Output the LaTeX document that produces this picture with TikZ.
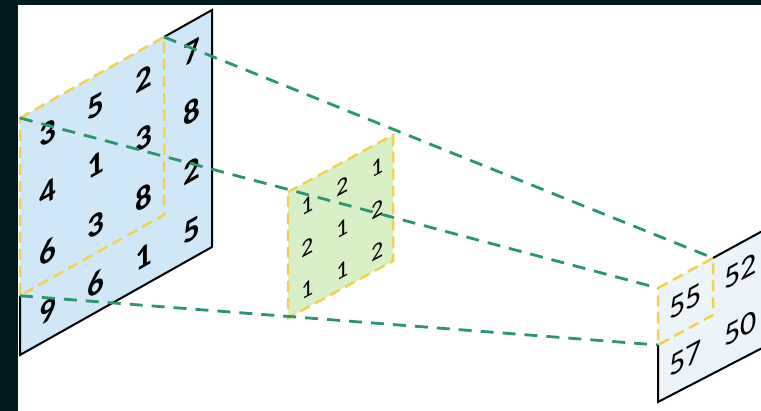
\documentclass[tikz,border=0pt]{standalone}
\usepackage{fontspec}
\setmainfont{Carlito}
\definecolor{darkbg}{HTML}{021B1E}
\definecolor{infill}{HTML}{CFE7F6}
\definecolor{kfill}{HTML}{D9F0C6}
\definecolor{ofill}{HTML}{ECF3F9}
\definecolor{ydash}{HTML}{F0D250}
\definecolor{gdash}{HTML}{2A966A}
\begin{document}
\begin{tikzpicture}[x=1pt,y=-1pt,
  yellowdash/.style={draw=ydash,line width=2.5pt,dash pattern=on 11pt off 6pt},
  greendash/.style={draw=gdash,line width=2.8pt,dash pattern=on 13pt off 9pt},
  outline/.style={draw=black,line width=2pt},
  innum/.style={inner sep=0pt,font=\bfseries\fontsize{33}{33}\selectfont,yslant=0.5625},
  knum/.style={inner sep=0pt,font=\fontsize{24}{24}\selectfont,yslant=0.543},
  onum/.style={inner sep=0pt,font=\fontsize{32}{32}\selectfont,yslant=0.545}]
\useasboundingbox (0,0) rectangle (761,411);
\fill[darkbg] (0,0) rectangle (761,411);
\fill[white] (18,5) rectangle (761,411);
\begin{scope}
\clip (18,5) rectangle (761,411);
% input
\coordinate (iTL) at (20,118);
\coordinate (iTR) at (212,10);
\coordinate (iBR) at (212,247);
\coordinate (iBL) at (20,355);
\coordinate (iyTR) at (164,37);
\coordinate (iyBR) at (164,214.75);
\coordinate (iyBL) at (20,295.75);
\fill[infill] (iTL)--(iTR)--(iBR)--(iBL)--cycle;
\draw[outline,line join=miter] (iyTR)--(iTR)--(iBR)--(iBL)--(iyBL);
\draw[yellowdash] (iTL)--(iyTR)--(iyBR)--(iyBL)--cycle;
\foreach \r/\c/\t in {1/1/3,1/2/5,1/3/2,1/4/7,
                      2/1/4,2/2/1,2/3/3,2/4/8,
                      3/1/6,3/2/3,3/3/8,3/4/2,
                      4/1/9,4/2/6,4/3/1,4/4/5}
  \node[innum] (in-\r-\c) at ({20+48*(\c-0.5)+4},{118-27*(\c-0.5)+59.25*(\r-0.5)-1}) {\t};
% kernel
\coordinate (kTL) at (288,192);
\coordinate (kTR) at (393,135);
\coordinate (kBR) at (393,261);
\coordinate (kBL) at (288,318);
\fill[kfill] (kTL)--(kTR)--(kBR)--(kBL)--cycle;
\draw[yellowdash] (kTL)--(kTR)--(kBR)--(kBL)--cycle;
\foreach \r/\c/\t in {1/1/1,1/2/2,1/3/1,
                      2/1/2,2/2/1,2/3/2,
                      3/1/1,3/2/1,3/3/2}
  \node[knum] (k-\r-\c) at ({288+35*(\c-0.5)+2},{192-19*(\c-0.5)+42*(\r-0.5)+2}) {\t};
% output
\coordinate (oTL) at (658,288);
\coordinate (oTR) at (768,228);
\coordinate (oBR) at (768,345);
\coordinate (oBL) at (658,402);
\coordinate (oyTR) at (713,258);
\coordinate (oyBR) at (713,315);
\coordinate (oyBL) at (658,345);
\fill[ofill] (oTL)--(oTR)--(oBR)--(oBL)--cycle;
\draw[outline] (oyTR)--(oTR);
\draw[outline,line join=miter] (oyBL)--(oBL)--(oBR);
\draw[yellowdash] (oTL)--(oyTR)--(oyBR)--(oyBL)--cycle;
\foreach \r/\c/\t in {1/1/55,1/2/52,2/1/57,2/2/50}
  \node[onum] (o-\r-\c) at ({658+55*(\c-0.5)},{288-30*(\c-0.5)+57*(\r-0.5)}) {\t};
% connectors
\draw[greendash] (iyTR) -- (oyTR);
\draw[greendash] (iTL) -- (oTL);
\draw[greendash] (iyBL) -- (oyBL);
\end{scope}
\end{tikzpicture}
\end{document}
